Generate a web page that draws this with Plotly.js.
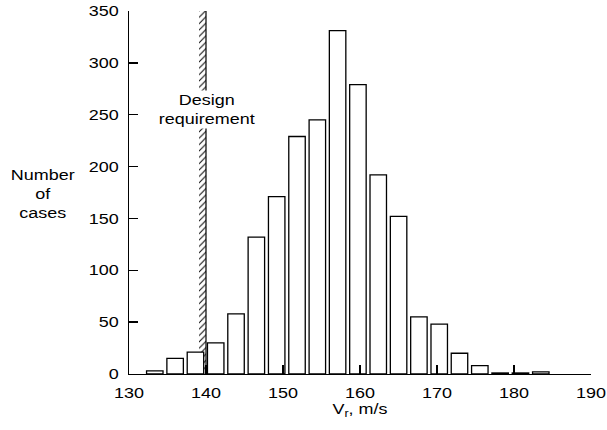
<!DOCTYPE html>
<html>
<head>
<meta charset="utf-8">
<script src="https://cdn.plot.ly/plotly-3.0.1.min.js"></script>
<style>
  html, body { margin: 0; padding: 0; background: #fff; }
  #chart { width: 607px; height: 430px; }
</style>
</head>
<body>
<div id="chart"></div>
<script>
// ---- data ----
const binCenters = [133.35, 135.99, 138.63, 141.26, 143.90, 146.54, 149.18, 151.82, 154.46, 157.09,
                    159.73, 162.37, 165.01, 167.65, 170.29, 172.92, 175.56, 178.20, 180.84, 183.48];
const caseCounts = [3, 15, 21, 30, 58, 132, 171, 229, 245, 331,
                    279, 192, 152, 55, 48, 20, 8, 1, 1, 2];
const xTickVals = [130, 140, 150, 160, 170, 180, 190];
const yTickVals = [0, 50, 100, 150, 200, 250, 300, 350];
const designRequirement = 140;
const designLabel = "Design<br>requirement";
const xTitle = "V<sub>r</sub>, m/s";
const yTitle = "Number<br>of<br>cases";

const FONT = { family: "Liberation Sans, Arial, sans-serif", size: 14.5, color: "#000" };
const xRange = [130, 190];
const yRange = [0, 350];

const histTrace = {
  type: "bar",
  x: binCenters,
  y: caseCounts,
  width: 2.14,
  marker: { color: "#fff", line: { color: "#000", width: 1.3 } },
  hoverinfo: "skip"
};

const bandWidth = 0.9;
const hatchTrace = {
  type: "bar",
  x: [designRequirement - bandWidth / 2],
  y: [yRange[1]],
  width: bandWidth,
  marker: {
    color: "#fff",
    line: { width: 0 },
    pattern: { shape: "/", size: 4.5, solidity: 0.22, fgcolor: "#000", bgcolor: "#fff" }
  },
  hoverinfo: "skip"
};

const layout = {
  width: 607, height: 430,
  margin: { l: 129, r: 16, t: 11, b: 56, pad: 0 },
  paper_bgcolor: "#fff", plot_bgcolor: "#fff",
  font: FONT,
  showlegend: false,
  barmode: "overlay",
  xaxis: {
    range: xRange, tickvals: xTickVals, ticktext: xTickVals.map(String),
    ticks: "inside", ticklen: 9, tickwidth: 1.3, tickcolor: "#000",
    ticklabelstandoff: 5,
    showline: true, linecolor: "#000", linewidth: 1.3,
    showgrid: false, zeroline: false, mirror: false,
    title: { text: xTitle, font: FONT, standoff: 4 },
    automargin: false, fixedrange: true
  },
  yaxis: {
    range: yRange, tickvals: yTickVals, ticktext: yTickVals.map(String),
    ticks: "inside", ticklen: 9, tickwidth: 1.3, tickcolor: "#000",
    ticklabelstandoff: 6,
    showline: true, linecolor: "#000", linewidth: 1.3,
    showgrid: false, zeroline: false, mirror: false,
    automargin: false, fixedrange: true
  },
  shapes: [{
    type: "line", xref: "x", yref: "y",
    x0: designRequirement, x1: designRequirement, y0: yRange[0], y1: yRange[1],
    line: { color: "#000", width: 1.2 }, layer: "above"
  }],
  annotations: [
    {
      text: designLabel, xref: "x", yref: "paper",
      x: designRequirement, y: 0.73, xanchor: "center", yanchor: "middle",
      showarrow: false, bgcolor: "#fff", borderpad: 1, font: FONT, align: "center"
    },
    {
      text: yTitle, xref: "paper", yref: "paper",
      x: 0, y: 0.496, xshift: -86, xanchor: "center", yanchor: "middle",
      showarrow: false, font: FONT, align: "center"
    }
  ]
};

Plotly.newPlot("chart", [hatchTrace, histTrace], layout, { staticPlot: true, displayModeBar: false })
  .then(function (gd) {
    // widen glyphs horizontally to match the reference's wide lettering
    const s = 1.24;
    gd.querySelectorAll("svg text").forEach(function (t) {
      if (!t.textContent) return;
      let b;
      try { b = t.getBBox(); } catch (e) { return; }
      const anchor = t.getAttribute("text-anchor") || "start";
      const cx = anchor === "end" ? b.x + b.width : (anchor === "start" ? b.x : b.x + b.width / 2);
      const prev = t.getAttribute("transform") || "";
      t.setAttribute("transform", (prev + " translate(" + cx + ",0) scale(" + s + ",1) translate(" + (-cx) + ",0)").trim());
    });
  });
</script>
</body>
</html>
